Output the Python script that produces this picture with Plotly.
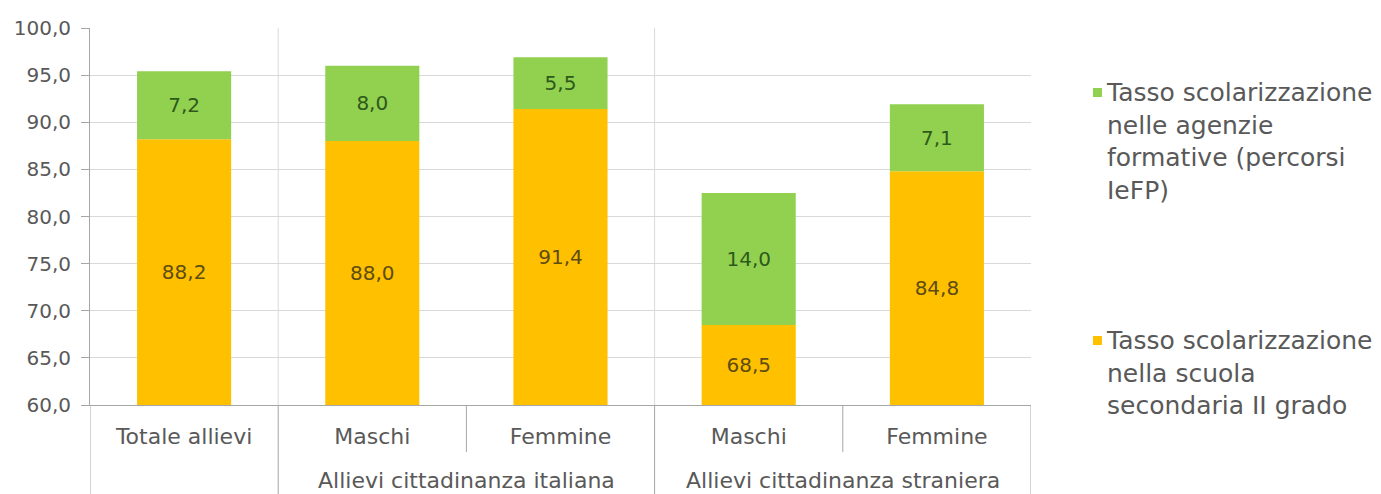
import plotly.graph_objects as go

categories = ["Totale allievi", "Maschi", "Femmine", "Maschi", "Femmine"]
groups = ["Allievi cittadinanza italiana", "Allievi cittadinanza straniera"]
group_spans = [(1, 2), (3, 4)]
scuola = [88.2, 88.0, 91.4, 68.5, 84.8]
agenzie = [7.2, 8.0, 5.5, 14.0, 7.1]
name_scuola = "Tasso scolarizzazione<br>nella scuola<br>secondaria II grado"
name_agenzie = "Tasso scolarizzazione<br>nelle agenzie<br>formative (percorsi<br>IeFP)"
yticks = [60, 65, 70, 75, 80, 85, 90, 95, 100]
Y_MIN, Y_MAX = 60, 100

FONT = "'DejaVu Sans', sans-serif"
GREY_TXT = "#595959"
AXIS = "#a6a6a6"
GRID = "#d9d9d9"
C_ORANGE = "#FFC000"
C_GREEN = "#92D050"

xpos = list(range(len(categories)))

fig = go.Figure()
# orange part drawn from the axis floor so that its label sits in the visible segment
fig.add_trace(go.Bar(
    x=xpos, y=[v - Y_MIN for v in scuola], base=Y_MIN, customdata=scuola,
    name=name_scuola, marker_color=C_ORANGE, marker_line_width=0,
    texttemplate="%{customdata:.1f}", textposition="inside",
    insidetextanchor="middle", textangle=0,
    textfont=dict(family=FONT, size=20, color="#5e4c12"),
    showlegend=False,
))
fig.add_trace(go.Bar(
    x=xpos, y=agenzie, base=scuola,
    name=name_agenzie, marker_color=C_GREEN, marker_line_width=0,
    texttemplate="%{y:.1f}", textposition="inside",
    insidetextanchor="middle", textangle=0,
    textfont=dict(family=FONT, size=20, color="#2d5a1b"),
    showlegend=False,
))

shapes = []
for b in [0.5, 2.5]:
    shapes.append(dict(type="line", xref="x", yref="paper", x0=b, x1=b, y0=0, y1=1,
                       line=dict(color=GRID, width=1), layer="below"))
for b in [-0.5, 0.5, 2.5, 4.5]:
    shapes.append(dict(type="line", xref="x", yref="paper", x0=b, x1=b, y0=0, y1=-0.25,
                       line=dict(color=AXIS, width=1)))
for b in [1.5, 3.5]:
    shapes.append(dict(type="line", xref="x", yref="paper", x0=b, x1=b, y0=0, y1=-0.125,
                       line=dict(color=AXIS, width=1)))

annotations = []
for g, (a, b) in zip(groups, group_spans):
    annotations.append(dict(x=(a + b) / 2, y=-0.199, xref="x", yref="paper",
                            text=g, showarrow=False, xanchor="center", yanchor="middle",
                            font=dict(family=FONT, size=22, color=GREY_TXT)))

# legend (custom, to match the reference spacing)
legend_items = [(name_agenzie, C_GREEN, 0.8409, 0.872), (name_scuola, C_ORANGE, 0.1830, 0.214)]
for name, col, sq_top, txt_top in legend_items:
    shapes.append(dict(type="rect", xref="paper", yref="paper",
                       x0=1.0659, x1=1.0754, y0=sq_top - 0.024, y1=sq_top,
                       fillcolor=col, line=dict(width=0)))
    annotations.append(dict(x=1.0776, y=txt_top, xref="paper", yref="paper", text=name,
                            showarrow=False, xanchor="left", yanchor="top", align="left",
                            font=dict(family=FONT, size=25, color=GREY_TXT)))

fig.update_layout(
    width=1381, height=494,
    margin=dict(l=90, r=350, t=28, b=89),
    paper_bgcolor="white", plot_bgcolor="white",
    barmode="overlay", bargap=0.5,
    separators=",.",
    font=dict(family=FONT, size=20, color=GREY_TXT),
    showlegend=False,
    shapes=shapes,
    annotations=annotations,
)
fig.update_xaxes(
    tickmode="array", tickvals=xpos, ticktext=categories,
    range=[-0.5, 4.5], showgrid=False, showline=True, linecolor=AXIS, linewidth=1,
    ticks="", ticklabelstandoff=12,
    tickfont=dict(family=FONT, size=22, color=GREY_TXT), zeroline=False,
)
fig.update_yaxes(
    range=[Y_MIN, Y_MAX], tickvals=yticks, tickformat=".1f",
    showgrid=True, gridcolor=GRID, gridwidth=1,
    showline=True, linecolor=AXIS, linewidth=1,
    ticks="outside", ticklen=8, tickcolor=AXIS, ticklabelstandoff=6,
    tickfont=dict(family=FONT, size=20, color=GREY_TXT), zeroline=False,
)

fig.write_html("out.html", config={"displayModeBar": False},
               post_script="document.body.style.margin='0';")
